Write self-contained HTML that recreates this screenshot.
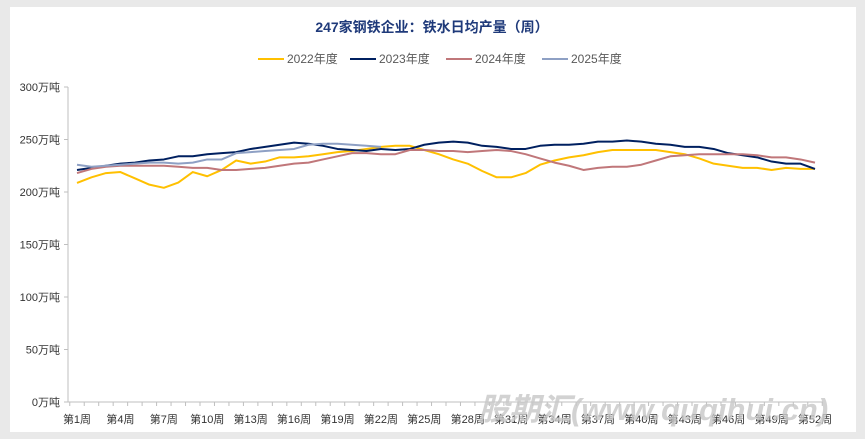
<!DOCTYPE html>
<html><head><meta charset="utf-8"><style>
body{margin:0;background:#e9e9e9;}
svg{display:block;font-family:"Liberation Sans","Noto Sans CJK SC",sans-serif;}
</style></head><body>
<svg width="865" height="439">
<rect x="10" y="7" width="846" height="425" fill="#fff"/>
<text x="432" y="32" text-anchor="middle" font-size="14" font-weight="bold" fill="#1f3a7a">247家钢铁企业：铁水日均产量（周）</text>
<g id="legend"></g>
<g id="axes"></g>
<g id="series"></g>
<text x="478" y="420" font-size="31" font-weight="bold" font-style="italic" fill="#c8c8c8" opacity="0.8">股期汇(www.quqihui.cn)</text>
</svg>
<script>
const weeks=[];for(let i=1;i<=52;i++)weeks.push(i);
const yTicks=[0,50,100,150,200,250,300];
const seriesNames=["2022年度","2023年度","2024年度","2025年度"];
const colors=["#ffc000","#002060","#c0777a","#8ea0c4"];
const s2022=[208.6,214,218,219,213,207,204,209,219,215,221,230,227,229,233,233,234,236,238,239,241,243,244,244,240,236,231,227,220,214,214,218,226,230,233,235,238,240,240,240,240,238,236,232,227,225,223,223,221,223,222,222];
const s2023=[221,223,225,227,228,230,231,234,234,236,237,238,241,243,245,247,246,244,241,240,239,241,240,241,245,247,248,247,244,243,241,241,244,245,245,246,248,248,249,248,246,245,243,243,241,237,235,233,229,227,227,222];
const s2024=[218,222,224,225,225,225,225,224,223,223,221,221,222,223,225,227,228,231,234,237,237,236,236,240,240,239,239,238,239,240,239,236,232,228,225,221,223,224,224,226,230,234,235,236,236,236,236,235,233,233,231,228];
const s2025=[226,224,225,226,227,228,228,227,228,231,231,237,238,239,240,241,245,246,246,245,244,243];
const allSeries=[s2022,s2023,s2024,s2025];
const NS="http://www.w3.org/2000/svg";
const x=w=>77+(w-1)*(815-77)/51;
const y=v=>402-v*(315/300);
function mk(tag,attrs,parent){const e=document.createElementNS(NS,tag);for(const k in attrs)e.setAttribute(k,attrs[k]);parent.appendChild(e);return e;}
const axes=document.getElementById('axes');
const ya=mk('line',{x1:68,y1:y(300),x2:68,y2:402,stroke:'#bfbfbf'},axes);


const xa=mk('line',{x1:68,y1:402,x2:823,y2:402,stroke:'#bfbfbf'},axes);


yTicks.forEach(t=>{
 mk('line',{x1:64,y1:y(t),x2:68,y2:y(t),stroke:'#bfbfbf'},axes);
 const tx=mk('text',{x:60,y:y(t)+4,'text-anchor':'end','font-size':11,fill:'#333'},axes);
 tx.textContent=t+'万吨';
 
 
});
for(let i=0;i<=52;i++){const xx=x(i+0.5);mk('line',{x1:xx,y1:402,x2:xx,y2:406,stroke:'#bfbfbf'},axes);}
weeks.forEach(w=>{if((w-1)%3===0){
 const tx=mk('text',{x:x(w),y:423,'text-anchor':'middle','font-size':11,fill:'#333'},axes);
 tx.textContent='第'+w+'周';
 
 
}});
const sg=document.getElementById('series');
allSeries.forEach((s,i)=>{
 const p=mk('polyline',{points:s.map((v,j)=>x(j+1)+','+y(v)).join(' '),fill:'none',stroke:colors[i],'stroke-width':2,'stroke-linejoin':'round'},sg);
 
 
});
const lg=document.getElementById('legend');
const lx=[258,350,446,542];
seriesNames.forEach((n,i)=>{
 const g=mk('g',{},lg);
 
 
 mk('line',{x1:lx[i],y1:59,x2:lx[i]+26,y2:59,stroke:colors[i],'stroke-width':2},g);
 const t=mk('text',{x:lx[i]+29,y:63,'font-size':12,fill:'#595959'},g);
 t.textContent=n;
});
</script>
</body></html>
